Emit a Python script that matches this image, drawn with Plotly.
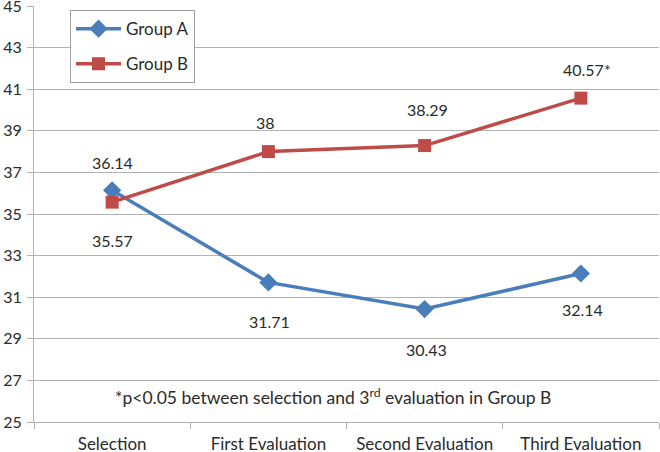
import plotly.graph_objects as go

categories = ["Selection", "First Evaluation", "Second Evaluation", "Third Evaluation"]
group_a = [36.14, 31.71, 30.43, 32.14]
group_b = [35.57, 38.00, 38.29, 40.57]
label_a = ["36.14", "31.71", "30.43", "32.14"]
label_b = ["35.57", "38", "38.29", "40.57*"]
y_ticks = [25, 27, 29, 31, 33, 35, 37, 39, 41, 43, 45]

BLUE = "#4a7ebb"
RED = "#be4b48"
TXT = "#2b2b2b"
GRID = "#b2b2b2"
FONT = "Lato, Open Sans, sans-serif"

fig = go.Figure()
fig.add_trace(go.Scatter(x=categories, y=group_a, mode="lines+markers",
                         name="Group A", legendgroup="a",
                         line=dict(color=BLUE, width=3.5),
                         marker=dict(symbol="diamond", size=14, color=BLUE)))
fig.add_trace(go.Scatter(x=categories, y=group_b, mode="lines+markers",
                         name="Group B", legendgroup="b",
                         line=dict(color=RED, width=3.5),
                         marker=dict(symbol="square", size=13, color=RED)))

# data labels (pixel offsets only)
a_shift = [28, -39, -40, -36]
a_xshift = [0, 1, 2, 2]
b_shift = [-38, 29, 36, 29]
b_xshift = [0, -3, 3, 6]
for i, c in enumerate(categories):
    fig.add_annotation(x=c, y=group_a[i], text=label_a[i], showarrow=False,
                       yshift=a_shift[i], xshift=a_xshift[i],
                       font=dict(size=16, color=TXT, family=FONT))
    fig.add_annotation(x=c, y=group_b[i], text=label_b[i], showarrow=False,
                       yshift=b_shift[i], xshift=b_xshift[i],
                       font=dict(size=16, color=TXT, family=FONT))

fig.add_annotation(xref="paper", yref="paper", x=0.478, y=0.028,
                   text="*p<0.05 between selection and 3<sup>rd</sup> evaluation in Group B",
                   showarrow=False, font=dict(size=17.5, color=TXT, family=FONT))

fig.update_layout(
    width=660, height=452,
    margin=dict(l=34, r=1, t=6, b=30),
    paper_bgcolor="white", plot_bgcolor="white",
    font=dict(family=FONT, size=16, color=TXT),
    showlegend=True,
    legend=dict(x=0.0576, y=0.990, xanchor="left", yanchor="top",
                bordercolor="#a0a0a0", borderwidth=1, bgcolor="white",
                font=dict(size=17, family=FONT, color=TXT), tracegroupgap=10,
                itemwidth=45),
)
fig.update_xaxes(range=[-0.5, 3.5], showline=True, linecolor=GRID, linewidth=1,
                 ticks="outside", ticklen=6, tickcolor=GRID,
                 tickson="boundaries", showgrid=False, automargin=False,
                 ticklabelstandoff=7, ticklabeloverflow="allow",
                 tickfont=dict(size=17, family=FONT, color=TXT))
fig.update_yaxes(range=[25, 45], tickvals=y_ticks, showline=True, linecolor=GRID,
                 linewidth=1, ticks="outside", ticklen=6, tickcolor=GRID,
                 showgrid=True, gridcolor=GRID, gridwidth=1, zeroline=False,
                 automargin=False, ticklabelstandoff=2, ticklabeloverflow="allow",
                 tickfont=dict(size=16, family=FONT, color=TXT))

fig.write_html("out.html", config={"displayModeBar": False},
               post_script="document.body.style.margin='0';document.body.style.overflow='hidden';")
